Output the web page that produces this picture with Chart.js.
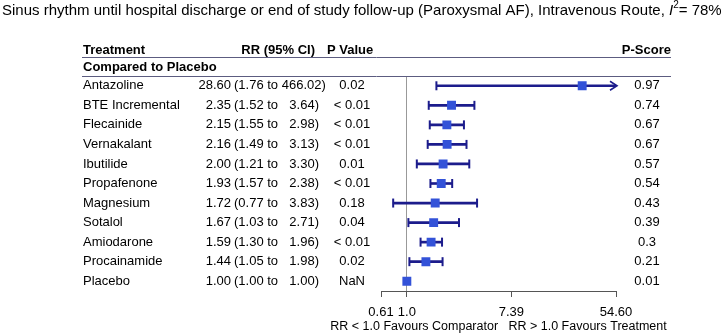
<!DOCTYPE html>
<html>
<head>
<meta charset="utf-8">
<script src="https://cdn.jsdelivr.net/npm/chart.js@4"></script>
<style>
  html, body { margin: 0; padding: 0; background: #fff; }
  #wrap { width: 728px; height: 336px; }
</style>
</head>
<body>
<div id="wrap"><canvas id="forest" width="728" height="336"></canvas></div>
<script>
const treatments = ["Antazoline", "BTE Incremental", "Flecainide", "Vernakalant", "Ibutilide",
  "Propafenone", "Magnesium", "Sotalol", "Amiodarone", "Procainamide", "Placebo"];
const rr = [28.60, 2.35, 2.15, 2.16, 2.00, 1.93, 1.72, 1.67, 1.59, 1.44, 1.00];
const ciLow = [1.76, 1.52, 1.55, 1.49, 1.21, 1.57, 0.77, 1.03, 1.30, 1.05, 1.00];
const ciHigh = [466.02, 3.64, 2.98, 3.13, 3.30, 2.38, 3.83, 2.71, 1.96, 1.98, 1.00];
const pValues = ["0.02", "< 0.01", "< 0.01", "< 0.01", "0.01", "< 0.01", "0.18", "0.04", "< 0.01", "0.02", "NaN"];
const pScores = ["0.97", "0.74", "0.67", "0.67", "0.57", "0.54", "0.43", "0.39", "0.3", "0.21", "0.01"];
const tickValues = [0.61, 1.0, 7.39, 54.60];
const tickLabels = ["0.61", "1.0", "7.39", "54.60"];

const FONT = "'Liberation Sans', Arial, Helvetica, sans-serif";
const NAVY = "#1c1c8c";
const BLUE = "#3352d8";
const RULE = "#5c5c80";

// text, rules, caps and arrow drawn on top of the chart
const forestPlugin = {
  id: "forestText",
  afterDatasetsDraw(chart) {
    const ctx = chart.ctx;
    const xs = chart.scales.x;
    const ys = chart.scales.y;
    const area = chart.chartArea;

    ctx.save();
    // whisker caps + arrow for clipped upper limit
    ctx.strokeStyle = NAVY;
    ctx.lineWidth = 2;
    treatments.forEach((t, i) => {
      if (ciLow[i] === ciHigh[i]) return;
      const y = ys.getPixelForValue(i);
      const xl = xs.getPixelForValue(ciLow[i]);
      ctx.beginPath();
      ctx.moveTo(xl, y - 4.5);
      ctx.lineTo(xl, y + 4.5);
      ctx.stroke();
      if (ciHigh[i] <= xs.max) {
        const xh = xs.getPixelForValue(ciHigh[i]);
        ctx.beginPath();
        ctx.moveTo(xh, y - 4.5);
        ctx.lineTo(xh, y + 4.5);
        ctx.stroke();
      } else {
        const xe = area.right + 1;
        ctx.lineWidth = 1.6;
        ctx.beginPath();
        ctx.moveTo(xe - 7, y - 4.5);
        ctx.lineTo(xe, y);
        ctx.lineTo(xe - 7, y + 4.5);
        ctx.stroke();
        ctx.lineWidth = 2;
      }
    });
    ctx.restore();
  },
  afterDraw(chart) {
    const ctx = chart.ctx;
    const ys = chart.scales.y;
    const area = chart.chartArea;
    ctx.save();
    ctx.fillStyle = "#000";
    ctx.textBaseline = "middle";

    // title with italic I and superscript 2
    let x = 2;
    const ty = 10.5;
    const parts = [
      ["Sinus rhythm until hospital discharge or end of study follow-up (Paroxysmal AF), Intravenous Route, ", "15px " + FONT, 0],
      ["I", "italic 15px " + FONT, 0],
      ["2", "10px " + FONT, -5],
      ["= 78%", "15px " + FONT, 0]
    ];
    parts.forEach(p => {
      ctx.font = p[1];
      ctx.textAlign = "left";
      ctx.fillText(p[0], x, ty + p[2]);
      x += ctx.measureText(p[0]).width;
    });

    // header row
    const hy = 50;
    ctx.font = "bold 13px " + FONT;
    ctx.textAlign = "left";
    ctx.fillText("Treatment", 83, hy);
    ctx.textAlign = "right";
    ctx.fillText("RR (95% CI)", 315, hy);
    ctx.textAlign = "left";
    ctx.fillText("P Value", 327, hy);
    ctx.textAlign = "right";
    ctx.fillText("P-Score", 671, hy);
    ctx.textAlign = "left";
    ctx.fillText("Compared to Placebo", 83, 67);

    // rules
    ctx.strokeStyle = RULE;
    ctx.lineWidth = 1;
    [57.5, area.top + 0.5].forEach(ly => {
      ctx.beginPath();
      ctx.moveTo(82, ly);
      ctx.lineTo(671, ly);
      ctx.stroke();
    });

    // rows
    ctx.font = "13px " + FONT;
    const space = ctx.measureText(" ").width;
    treatments.forEach((t, i) => {
      const y = ys.getPixelForValue(i);
      ctx.textAlign = "left";
      ctx.fillText(t, 83, y);

      ctx.textAlign = "right";
      ctx.fillText(rr[i].toFixed(2), 231, y);
      const mid = "(" + ciLow[i].toFixed(2) + " to";
      ctx.textAlign = "left";
      ctx.fillText(mid, 234, y);
      const hi = ciHigh[i].toFixed(2) + ")";
      const midEnd = 234 + ctx.measureText(mid).width;
      const hiRight = Math.max(319, midEnd + space + ctx.measureText(hi).width);
      ctx.textAlign = "right";
      ctx.fillText(hi, hiRight, y);

      ctx.textAlign = "center";
      ctx.fillText(pValues[i], 352, y);
      ctx.fillText(pScores[i], 647, y);
    });

    // axis caption, centred under the axis
    ctx.font = "12.5px " + FONT;
    ctx.textAlign = "center";
    ctx.fillText("RR < 1.0 Favours Comparator   RR > 1.0 Favours Treatment",
      (area.left + area.right) / 2, 327);
    ctx.restore();
  }
};

new Chart(document.getElementById("forest"), {
  type: "bar",
  data: {
    labels: treatments,
    datasets: [
      {
        type: "bar",
        label: "95% CI",
        data: treatments.map((t, i) => [ciLow[i], ciHigh[i]]),
        backgroundColor: NAVY,
        borderWidth: 0,
        barThickness: 2,
        clip: 0,
        order: 2
      },
      {
        type: "scatter",
        label: "RR",
        data: treatments.map((t, i) => ({ x: rr[i], y: t })),
        pointStyle: "rect",
        pointRadius: 6.3,
        backgroundColor: BLUE,
        borderColor: BLUE,
        borderWidth: 0,
        order: 1
      }
    ]
  },
  options: {
    indexAxis: "y",
    responsive: false,
    animation: false,
    events: [],
    layout: { padding: { left: 381, right: 112, top: 76, bottom: 0 } },
    plugins: {
      legend: { display: false },
      tooltip: { enabled: false },
      title: { display: false }
    },
    scales: {
      y: {
        type: "category",
        display: false,
        offset: true
      },
      x: {
        type: "logarithmic",
        min: 0.61,
        max: 54.60,
        bounds: "data",
        afterBuildTicks: s => { s.ticks = tickValues.map(v => ({ value: v })); },
        afterFit: s => { s.height = 45; },
        border: { display: true, color: "#555", width: 1 },
        grid: {
          drawOnChartArea: true,
          color: c => (c.tick && c.tick.value === 1 ? "#999" : "rgba(0,0,0,0)"),
          tickColor: "#555",
          tickLength: 6
        },
        ticks: {
          autoSkip: false,
          maxRotation: 0,
          color: "#000",
          padding: 8,
          font: { family: FONT, size: 13 },
          callback: (v, i) => tickLabels[i]
        },
        title: { display: false }
      }
    }
  },
  plugins: [forestPlugin]
});
</script>
</body>
</html>
